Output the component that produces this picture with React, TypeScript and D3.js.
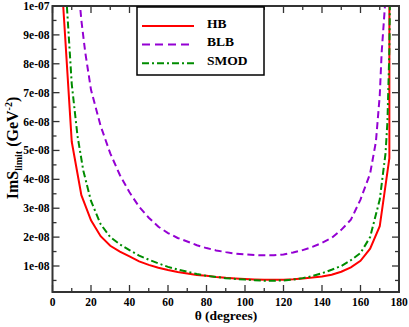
import React from 'react';
import * as d3 from 'd3';

// values in units of 1e-8 GeV^-2
const UNIT = 1e-8;

const thetaHB = [5, 10, 15, 20, 25, 30, 35, 40, 45, 50, 55, 60, 65, 70, 75, 80, 85, 90, 95, 100, 105, 110, 115, 120, 125, 130, 135, 140, 145, 150, 155, 160, 165, 170, 175, 175.2];
const valHB = [10.6, 5.3, 3.45, 2.58, 2.03, 1.7, 1.5, 1.33, 1.16, 1.04, 0.94, 0.86, 0.79, 0.74, 0.69, 0.66, 0.62, 0.59, 0.57, 0.55, 0.535, 0.525, 0.52, 0.525, 0.54, 0.57, 0.6, 0.64, 0.7, 0.8, 0.95, 1.18, 1.6, 2.38, 4.73, 60];

const thetaBLB = [13, 15, 17, 20, 25, 30, 35, 40, 45, 50, 55, 60, 65, 70, 75, 80, 85, 90, 95, 100, 105, 110, 115, 120, 125, 130, 135, 140, 145, 150, 155, 160, 165, 168, 170, 171, 172.7, 173.5];
const valBLB = [11, 9.5, 8.4, 7.1, 5.85, 4.9, 4.15, 3.55, 3.05, 2.67, 2.36, 2.14, 1.97, 1.85, 1.72, 1.62, 1.54, 1.48, 1.43, 1.4, 1.38, 1.37, 1.37, 1.4, 1.47, 1.55, 1.66, 1.8, 1.97, 2.25, 2.6, 3.3, 4.2, 5.3, 6.9, 8.4, 10, 11];

const thetaSMOD = [7, 10, 13, 16, 20, 25, 30, 35, 40, 45, 50, 55, 60, 65, 70, 75, 80, 85, 90, 95, 100, 105, 110, 115, 120, 125, 130, 135, 140, 145, 150, 155, 160, 165, 170, 173, 174, 175, 175.6];
const valSMOD = [10.5, 7.3, 5.5, 4.3, 3.25, 2.45, 2.0, 1.75, 1.55, 1.36, 1.22, 1.09, 0.97, 0.88, 0.8, 0.72, 0.66, 0.62, 0.58, 0.55, 0.53, 0.51, 0.49, 0.49, 0.5, 0.53, 0.58, 0.65, 0.75, 0.87, 1.0, 1.2, 1.45, 2.0, 3.3, 4.9, 6.0, 8.5, 12];

const seriesNames = ['HB', 'BLB', 'SMOD'];
const seriesColors = ['#ff0000', '#9400d3', '#008c00'];
const seriesDash = ['none', '7,4', '7,3,2,3'];

const xTicks = [0, 20, 40, 60, 80, 100, 120, 140, 160, 180];
const xMinor = [10, 30, 50, 70, 90, 110, 130, 150, 170];
const yTicks = [1, 2, 3, 4, 5, 6, 7, 8, 9, 10];
const yTickLabels = ['1e-08', '2e-08', '3e-08', '4e-08', '5e-08', '6e-08', '7e-08', '8e-08', '9e-08', '1e-07'];
const yMinor = [0.5, 1.5, 2.5, 3.5, 4.5, 5.5, 6.5, 7.5, 8.5, 9.5];

const W = 409;
const H = 327;
const left = 52.5, right = 399, top = 6, bottom = 292;
const font = '"Liberation Serif", "DejaVu Serif", serif';

export default function App() {
  const x = d3.scaleLinear().domain([0, 180]).range([left, right]);
  const y = d3.scaleLinear().domain([0.1 * UNIT, 10 * UNIT]).range([bottom, top]);

  const series = [
    { t: thetaHB, v: valHB },
    { t: thetaBLB, v: valBLB },
    { t: thetaSMOD, v: valSMOD },
  ];

  const line = d3.line<[number, number]>()
    .x(d => x(d[0]))
    .y(d => y(d[1] * UNIT));

  const axisColor = '#333';

  return (
    <svg width={W} height={H} style={{ position: 'fixed', left: 0, top: 0, background: '#fff' }} fontFamily={font}>
      <defs>
        <clipPath id="plot">
          <rect x={left} y={top} width={right - left} height={bottom - top} />
        </clipPath>
      </defs>

      <g clipPath="url(#plot)" fill="none" strokeWidth={2}>
        {series.map((s, i) => (
          <path
            key={seriesNames[i]}
            d={line(s.t.map((t, j) => [t, s.v[j]] as [number, number])) || ''}
            stroke={seriesColors[i]}
            strokeDasharray={seriesDash[i]}
          />
        ))}
      </g>

      {/* ticks, inward on all four sides */}
      <g stroke={axisColor} strokeWidth={1.3}>
        {xTicks.map(t => (
          <g key={'xt' + t}>
            <line x1={x(t)} x2={x(t)} y1={bottom} y2={bottom - 7} />
            <line x1={x(t)} x2={x(t)} y1={top} y2={top + 7} />
          </g>
        ))}
        {xMinor.map(t => (
          <g key={'xm' + t}>
            <line x1={x(t)} x2={x(t)} y1={bottom} y2={bottom - 4} />
            <line x1={x(t)} x2={x(t)} y1={top} y2={top + 4} />
          </g>
        ))}
        {yTicks.map(t => (
          <g key={'yt' + t}>
            <line x1={left} x2={left + 7} y1={y(t * UNIT)} y2={y(t * UNIT)} />
            <line x1={right} x2={right - 7} y1={y(t * UNIT)} y2={y(t * UNIT)} />
          </g>
        ))}
        {yMinor.map(t => (
          <g key={'ym' + t}>
            <line x1={left} x2={left + 4} y1={y(t * UNIT)} y2={y(t * UNIT)} />
            <line x1={right} x2={right - 4} y1={y(t * UNIT)} y2={y(t * UNIT)} />
          </g>
        ))}
      </g>

      <rect x={left} y={top} width={right - left} height={bottom - top} fill="none" stroke={axisColor} strokeWidth={2} />

      {/* tick labels */}
      <g fontSize={11.5} fontWeight="bold" fill="#000">
        {xTicks.map(t => (
          <text key={'xl' + t} x={x(t)} y={bottom + 14} textAnchor="middle">{t}</text>
        ))}
        {yTicks.map((t, i) => (
          <text key={'yl' + t} x={left - 3} y={y(t * UNIT)} dy="0.35em" textAnchor="end">{yTickLabels[i]}</text>
        ))}
      </g>

      {/* axis titles */}
      <text x={226} y={320} textAnchor="middle" fontSize={13.5} fontWeight="bold">θ (degrees)</text>
      <text transform="translate(18,148) rotate(-90)" textAnchor="middle" fontSize={16} fontWeight="bold">
        ImS<tspan fontSize={10} dy={4}>limit</tspan>
        <tspan dy={-4}> (GeV</tspan>
        <tspan fontSize={10} dy={-6}>-2</tspan>
        <tspan dy={6}>)</tspan>
      </text>

      {/* legend */}
      <rect x={137} y={7} width={127} height={68} fill="#fff" stroke="#000" strokeWidth={1.5} />
      {seriesNames.map((n, i) => (
        <g key={'lg' + n}>
          <line x1={142} x2={194} y1={26 + i * 18.6} y2={26 + i * 18.6} stroke={seriesColors[i]} strokeWidth={2} strokeDasharray={i === 1 ? '8,5' : seriesDash[i]} />
          <text x={207} y={27.5 + i * 18.6} fontSize={13.5} fontWeight="bold">{n}</text>
        </g>
      ))}
    </svg>
  );
}
